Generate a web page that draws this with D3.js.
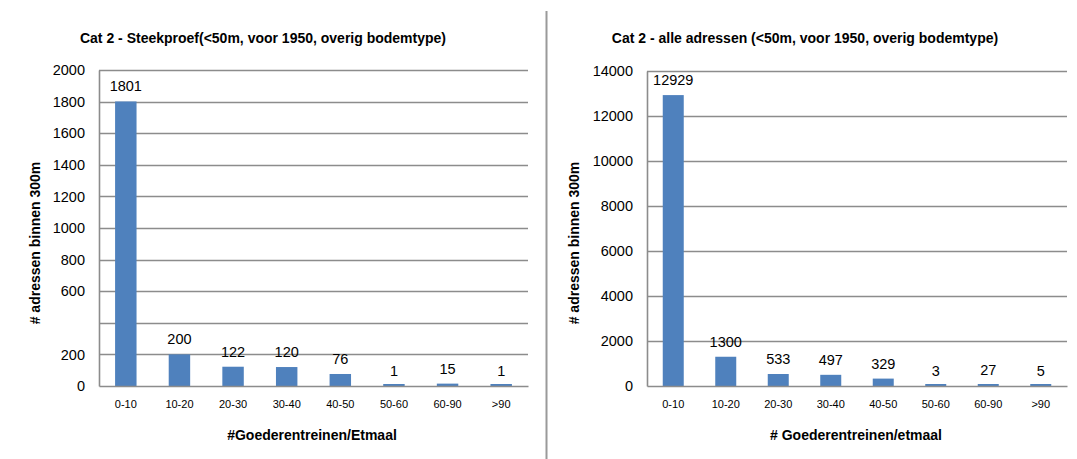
<!DOCTYPE html>
<html>
<head>
<meta charset="utf-8">
<script src="https://cdn.jsdelivr.net/npm/d3@7"></script>
<style>
  html, body { margin: 0; padding: 0; background: #fff; }
  svg text { font-family: "Liberation Sans Narrow", "Liberation Sans", Arial, sans-serif; fill: #000; }
</style>
</head>
<body>
<svg id="chart" width="1077" height="459"></svg>
<script>
// ---- data ----
const categoriesLeft = ["0-10", "10-20", "20-30", "30-40", "40-50", "50-60", "60-90", ">90"];
const valuesLeft = [1801, 200, 122, 120, 76, 1, 15, 1];
const yTicksLeft = [0, 200, 400, 600, 800, 1000, 1200, 1400, 1600, 1800, 2000];
const yTickLabelsLeft = ["0", "200", "", "600", "800", "1000", "1200", "1400", "1600", "1800", "2000"];
const titleLeft = "Cat 2 - Steekproef(<50m, voor 1950, overig bodemtype)";
const xTitleLeft = "#Goederentreinen/Etmaal";

const categoriesRight = ["0-10", "10-20", "20-30", "30-40", "40-50", "50-60", "60-90", ">90"];
const valuesRight = [12929, 1300, 533, 497, 329, 3, 27, 5];
const yTicksRight = [0, 2000, 4000, 6000, 8000, 10000, 12000, 14000];
const yTickLabelsRight = ["0", "2000", "4000", "6000", "8000", "10000", "12000", "14000"];
const titleRight = "Cat 2 - alle adressen (<50m, voor 1950, overig bodemtype)";
const xTitleRight = "# Goederentreinen/etmaal";

const yTitle = "# adressen binnen  300m";

const svg = d3.select("#chart");
const barColor = "#4F81BD";
const gridColor = "#8c8c8c";

function drawChart(cfg) {
  const g = svg.append("g");
  const x = d3.scaleBand().domain(cfg.categories).range([cfg.left, cfg.right]).paddingInner(0.6).paddingOuter(0.3);
  const y = d3.scaleLinear().domain([0, cfg.yMax]).range([cfg.bottom, cfg.top]);

  // gridlines
  g.selectAll("line.grid").data(cfg.yTicks.filter(d => d > 0)).enter().append("line")
    .attr("x1", cfg.left).attr("x2", cfg.right)
    .attr("y1", d => Math.round(y(d)) + 0.5).attr("y2", d => Math.round(y(d)) + 0.5)
    .attr("stroke", gridColor).attr("stroke-width", 1.4);

  // y axis
  const yAxis = d3.axisLeft(y).tickValues(cfg.yTicks)
    .tickFormat((d, i) => cfg.yTickLabels[i]).tickSize(0).tickPadding(14);
  const ya = g.append("g").attr("transform", `translate(${cfg.left},0)`).call(yAxis);
  ya.select(".domain").attr("stroke", gridColor).attr("stroke-width", 1.6);
  ya.selectAll("text").attr("font-size", 14.5).attr("fill", "#000");

  // bars
  g.selectAll("rect.bar").data(cfg.values).enter().append("rect")
    .attr("x", (d, i) => x(cfg.categories[i]))
    .attr("width", x.bandwidth())
    .attr("y", d => Math.min(y(d), cfg.bottom - 2))
    .attr("height", d => Math.max(2, cfg.bottom - y(d)))
    .attr("fill", barColor);

  // x axis
  const xAxis = d3.axisBottom(x).tickSize(0).tickPadding(14);
  const xa = g.append("g").attr("transform", `translate(0,${cfg.bottom})`).call(xAxis);
  xa.select(".domain").attr("stroke", gridColor).attr("stroke-width", 1.6);
  xa.selectAll("text").attr("font-size", 11).attr("fill", "#000");

  // value labels
  g.selectAll("text.val").data(cfg.values).enter().append("text")
    .attr("x", (d, i) => x(cfg.categories[i]) + x.bandwidth() / 2)
    .attr("y", d => y(d) - 10)
    .attr("text-anchor", "middle").attr("font-size", 14.5)
    .text(d => d);

  // titles
  g.append("text").attr("x", cfg.titleX).attr("y", 43).attr("text-anchor", "middle")
    .attr("font-size", 14).attr("font-weight", "bold").text(cfg.title);
  g.append("text").attr("x", cfg.xTitleX).attr("y", 440).attr("text-anchor", "middle")
    .attr("font-size", 14).attr("font-weight", "bold").text(cfg.xTitle);
  g.append("text").attr("transform", `translate(${cfg.yTitleX},243) rotate(-90)`)
    .attr("text-anchor", "middle").attr("font-size", 14).attr("font-weight", "bold").text(yTitle);
}

drawChart({
  categories: categoriesLeft, values: valuesLeft, yTicks: yTicksLeft, yTickLabels: yTickLabelsLeft,
  yMax: 2000, left: 99, right: 528, top: 70, bottom: 386,
  title: titleLeft, titleX: 263, xTitle: xTitleLeft, xTitleX: 312, yTitleX: 40
});
drawChart({
  categories: categoriesRight, values: valuesRight, yTicks: yTicksRight, yTickLabels: yTickLabelsRight,
  yMax: 14000, left: 647, right: 1067, top: 71, bottom: 386,
  title: titleRight, titleX: 805, xTitle: xTitleRight, xTitleX: 856, yTitleX: 579
});

// divider
svg.append("line").attr("x1", 546.5).attr("x2", 546.5).attr("y1", 11).attr("y2", 459)
  .attr("stroke", "#9a9a9a").attr("stroke-width", 2);
</script>
</body>
</html>
